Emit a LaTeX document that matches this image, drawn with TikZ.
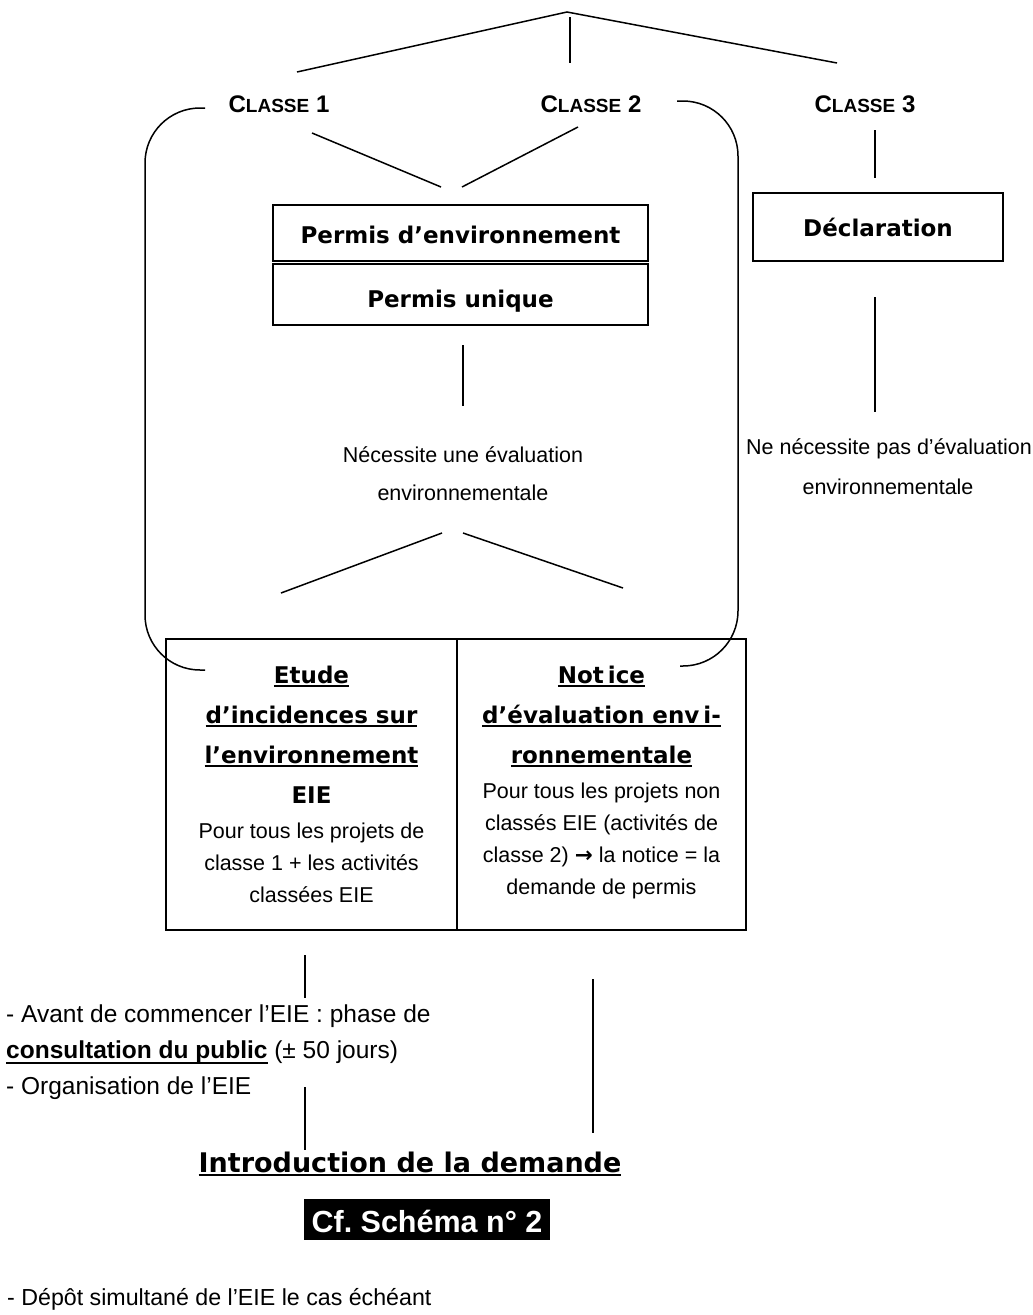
\documentclass[tikz,border=0pt]{standalone}
\usepackage{fontspec}
\setmainfont{Liberation Sans}
\newfontfamily\hfont{DejaVu Sans}
\frenchspacing
\newcommand\myul[2][3.5pt]{\setbox0\hbox{#2}\dimen0=\wd0\rlap{\box0}\rule[-#1]{\dimen0}{1.8pt}}
\newcommand\cls[1]{{\fontsize{24}{24}\selectfont C}{\fontsize{19}{19}\selectfont LASSE}\fontsize{24}{24}\selectfont\ #1}
\tikzset{
  ln/.style={line width=1.5pt},
  boxn/.style={draw, line width=1.5pt, inner sep=0pt},
  hd/.style={font=\hfont\bfseries\fontsize{23}{23}\selectfont},
  bd/.style={font=\fontsize{21.5}{21.5}\selectfont},
  lt/.style={font=\fontsize{24.5}{24.5}\selectfont, anchor=base west, inner sep=0pt},
  cl/.style={font=\bfseries, anchor=base, inner sep=0pt},
  tx/.style={anchor=base, inner sep=0pt},
}
\begin{document}
\begin{tikzpicture}[x=1pt,y=-1pt]
\useasboundingbox (0,0) rectangle (1033,1315);
% top fan
\coordinate (apex) at (567,12);
\coordinate (la) at (297,72);
\coordinate (va) at (570,17);
\coordinate (vb) at (570,63);
\coordinate (ra) at (837,63);
\draw[ln] (la) -- (apex) -- (ra);
\draw[ln] (va) -- (vb);
% classes
\node[cl] (c1) at (279,112) {\cls{1}};
\node[cl] (c2) at (591,112) {\cls{2}};
\node[cl] (c3) at (865,112) {\cls{3}};
% bracket
\draw[ln, rounded corners=55pt] (205,108) -- (145,108) -- (145,670) -- (205,670);
\draw[ln, rounded corners=55pt] (677,101) -- (738,101) -- (738,666) -- (680,666);
% lines to permits
\coordinate (c1a) at (312,133);
\coordinate (c1b) at (441,187);
\coordinate (c2a) at (578,127);
\coordinate (c2b) at (462,187);
\draw[ln] (c1a) -- (c1b);
\draw[ln] (c2a) -- (c2b);
% permit boxes
\node[boxn, hd, minimum width=375pt, minimum height=56pt, text height=20pt, text depth=0pt] (pe) at (460.5,233) {Permis d’environnement};
\node[boxn, hd, minimum width=375pt, minimum height=61pt, text height=27pt, text depth=2pt] (pu) at (460.5,294.5) {Permis unique};
\coordinate (m1) at (463,345);
\coordinate (m2) at (463,406);
\draw[ln] (m1) -- (m2);
\node[tx, bd] (nec1) at (463,462) {Nécessite une évaluation};
\node[tx, bd] (nec2) at (463,500) {environnementale};
\coordinate (s0) at (442,533);
\coordinate (s1) at (281,593);
\coordinate (s2) at (463,533);
\coordinate (s3) at (623,588);
\draw[ln] (s0) -- (s1);
\draw[ln] (s2) -- (s3);
% classe 3 branch
\coordinate (k1) at (875,130);
\coordinate (k2) at (875,178);
\draw[ln] (k1) -- (k2);
\node[boxn, hd, minimum width=250pt, minimum height=68pt, text height=18pt, text depth=0pt] (decl) at (878,227) {Déclaration};
\coordinate (k3) at (875,297);
\coordinate (k4) at (875,412);
\draw[ln] (k3) -- (k4);
\node[tx, bd] (nn1) at (889,454) {Ne nécessite pas d’évaluation};
\node[tx, bd] (nn2) at (888,494) {environnementale};
% two columns
\node[boxn, minimum width=291pt, minimum height=291pt] (eie) at (311.5,784.5) {};
\node[boxn, minimum width=289pt, minimum height=291pt] (nt) at (601.5,784.5) {};
\node[tx, hd] (e1) at (311.5,683) {\myul{Etude}};
\node[tx, hd] (e2) at (311.5,723) {\myul{d’incidences sur}};
\node[tx, hd] (e3) at (311.5,763) {\myul{l’environnement}};
\node[tx, hd] (e4) at (311.5,803) {EIE};
\node[tx, bd] (e5) at (311.5,838) {Pour tous les projets de};
\node[tx, bd] (e6) at (311.5,870) {classe 1 + les activités};
\node[tx, bd] (e7) at (311.5,902) {classées EIE};
\node[tx, hd] (n1) at (601.5,683) {\myul{Not\hspace{4pt}ice}};
\node[tx, hd] (n2) at (601.5,723) {\myul{d’évaluation env\hspace{4pt}i-}};
\node[tx, hd] (n3) at (601.5,763) {\myul{ronnementale}};
\node[tx, bd] (n4) at (601.5,798) {Pour tous les projets non};
\node[tx, bd] (n5) at (601.5,830) {classés EIE (activités de};
\node[tx, bd] (n6) at (601.5,862) {classe 2) {\hfont\bfseries →} la notice = la};
\node[tx, bd] (n7) at (601.5,894) {demande de permis};
% lower lines
\coordinate (d1) at (305,955);
\coordinate (d2) at (305,998);
\coordinate (d3) at (305,1087);
\coordinate (d4) at (305,1150);
\coordinate (d5) at (593,979);
\coordinate (d6) at (593,1133);
\draw[ln] (d1) -- (d2);
\draw[ln] (d3) -- (d4);
\draw[ln] (d5) -- (d6);
\node[lt] (a1) at (6,1022) {- Avant de commencer l’EIE : phase de};
\node[lt] (a2) at (6,1058) {{\bfseries\myul[6pt]{consultation du public}} (± 50 jours)};
\node[lt] (a3) at (6,1094) {- Organisation de l’EIE};
\node[tx, font=\hfont\bfseries\fontsize{27}{27}\selectfont] (intro) at (410,1172) {\myul{Introduction de la demande}};
\node[anchor=base, fill=black, text=white, font=\bfseries\fontsize{30.5}{30.5}\selectfont, inner xsep=8pt, inner ysep=3pt, text height=30pt, text depth=5pt] (cf) at (427,1232) {Cf. Schéma n° 2};
\node[lt, font=\fontsize{23.2}{23.2}\selectfont] (dep) at (7,1305) {- Dépôt simultané de l’EIE le cas échéant};
\end{tikzpicture}
\end{document}
